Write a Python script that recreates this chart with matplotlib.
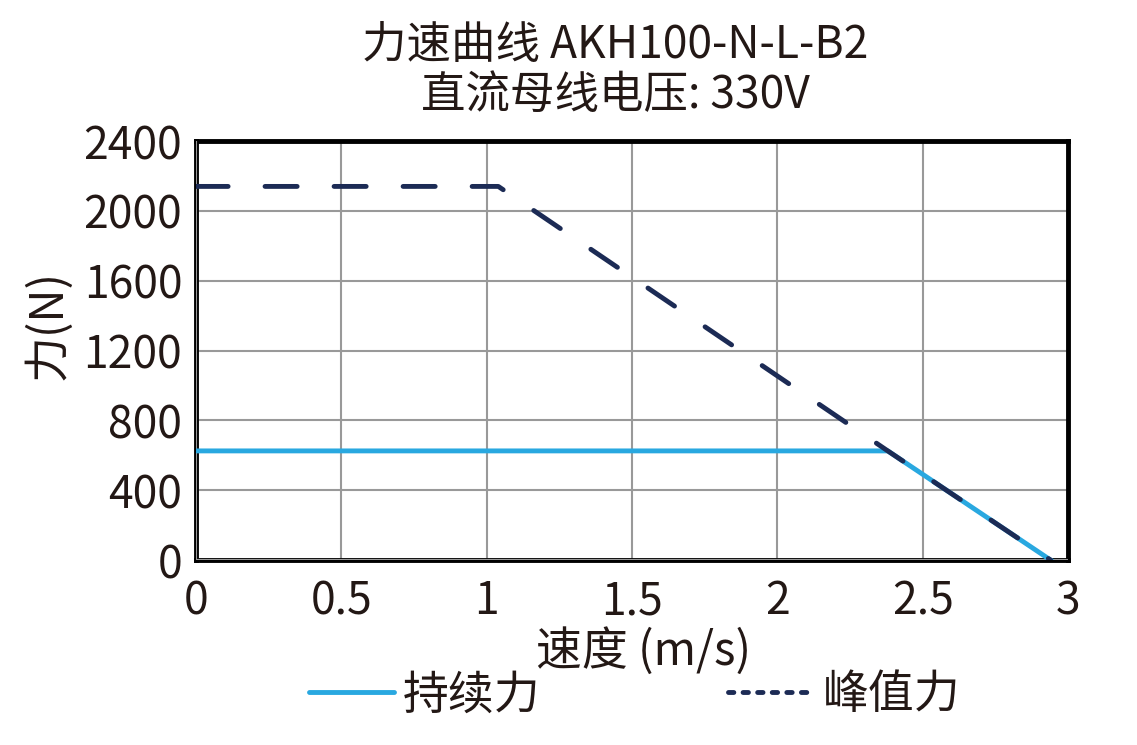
import matplotlib.pyplot as plt
from matplotlib.lines import Line2D

plt.rcParams['font.family'] = ['Noto Sans CJK SC', 'DejaVu Sans']

speed_cont = [0, 2.38, 2.94]
force_cont = [625, 625, 0]
speed_peak = [0, 1.04, 2.38, 2.94]
force_peak = [2140, 2140, 625, 0]

xticks = [0, 0.5, 1, 1.5, 2, 2.5, 3]
xtick_labels = ['0', '0.5', '1', '1.5', '2', '2.5', '3']
yticks = [0, 400, 800, 1200, 1600, 2000, 2400]

blue = '#29a8e0'
navy = '#1c2b55'
txt = '#231815'

fig = plt.figure(figsize=(11.37, 7.45), dpi=100)
ax = fig.add_axes([0.1724, 0.2483, 0.7669, 0.5624])

ax.plot(speed_cont, force_cont, color=blue, lw=3.5, zorder=4)
ax.plot(speed_peak, force_peak, color=navy, lw=3.5, dashes=(6.6, 7.6),
        dash_capstyle='round', zorder=5)

ax.set_xlim(0, 3)
ax.set_ylim(0, 2400)
ax.set_xticks(xticks)
ax.set_xticklabels(xtick_labels)
ax.set_yticks(yticks)
ax.tick_params(length=0, labelsize=32, colors=txt)
ax.tick_params(axis='y', pad=10)
ax.tick_params(axis='x', pad=13)
ax.grid(color='#999999', lw=1.5)

for s in ['top', 'right', 'left', 'bottom']:
    ax.spines[s].set_linewidth(3.5)
    ax.spines[s].set_color('black')
ax.axvline(0, color='#999999', lw=1.5, zorder=3)
ax.axhline(0, color='#999999', lw=1.5, zorder=3)

fig.text(0.541, 0.906, '力速曲线 AKH100-N-L-B2\n直流母线电压: 330V', fontsize=32,
         color=txt, ha='center', va='center', linespacing=1.1)

ax.set_xlabel('速度 (m/s)', fontsize=33, color=txt)
ax.xaxis.label.set_va('center')
ax.xaxis.set_label_coords(0.513, -0.218)
ax.set_ylabel('力(N)', fontsize=33, color=txt)
ax.yaxis.label.set_va('center')
ax.yaxis.set_label_coords(-0.17, 0.56)

handles = [Line2D([], [], color=blue, lw=3.5, solid_capstyle='round'),
           Line2D([], [], color=navy, lw=3.5, dashes=(1.1, 1.9), dash_capstyle='round')]
leg = fig.legend(handles, ['持续力', '峰值力'], loc='center', bbox_to_anchor=(0.558, 0.067),
                 ncol=2, frameon=False, fontsize=33, columnspacing=4.1,
                 handlelength=1.85, handletextpad=0.2)
for t in leg.get_texts():
    t.set_color(txt)

fig.savefig('out.png', dpi=100)
